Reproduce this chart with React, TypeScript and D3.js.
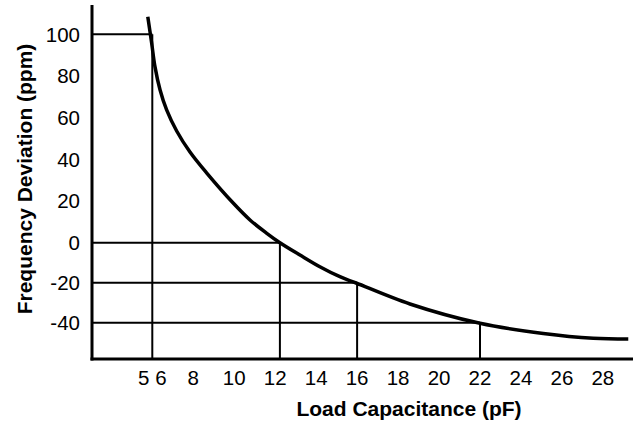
import * as d3 from "d3";
import React from "react";

// curve: load capacitance (pF) vs frequency deviation (ppm)
const capacitance = [5.78, 5.97, 6.13, 6.38, 6.7, 7.19, 7.84, 8.66, 9.96, 10.77, 11.59, 12.23, 13.21, 14.18, 15.16, 15.95, 18.58, 22, 25.09, 27.53, 29.24];
const deviation = [108.4, 95.7, 84.5, 73.3, 63.7, 53.6, 43.5, 33.4, 18.9, 10.9, 4.5, 0, -6.15, -12, -17, -20.15, -30.65, -40.3, -45.4, -47.8, -48.2];

// reference guides (x value, y value)
const guideX = [6, 12.23, 16, 22];
const guideY = [100, 0, -20, -40];

const yTicks = [100, 80, 60, 40, 20, 0, -20, -40];
const xTickValues = [6, 8, 10, 12, 14, 16, 18, 20, 22, 24, 26, 28];
const xTickLabels = ["5 6", "8", "10", "12", "14", "16", "18", "20", "22", "24", "26", "28"];

export default function App() {
  const WIDTH = 636;
  const HEIGHT = 422;
  const axisLeft = 92;
  const axisBottom = 359;
  const axisTop = 5;
  const axisRight = 633;

  const xScale = d3.scaleLinear().domain([6, 22]).range([152.3, 480]);
  // the printed axis is a bit stretched above zero
  const yScale = d3.scaleLinear().domain([-40, 0, 100]).range([322.7, 242.7, 34.3]);

  const points = capacitance.map((c, i) => [c, deviation[i]] as [number, number]);
  const line = d3
    .line<[number, number]>()
    .x(d => xScale(d[0]))
    .y(d => yScale(d[1]))
    .curve(d3.curveCatmullRom.alpha(0.5));

  const font = "Arial, 'Liberation Sans', Helvetica, sans-serif";

  return (
    <svg
      width={WIDTH}
      height={HEIGHT}
      style={{ position: "absolute", left: 0, top: 0, background: "#fff" }}
      fontFamily={font}
    >
      {/* guide lines */}
      <g stroke="#000" strokeWidth={2}>
        {guideX.map((gx, i) => (
          <g key={i}>
            <line x1={axisLeft} x2={xScale(gx)} y1={yScale(guideY[i])} y2={yScale(guideY[i])} />
            <line x1={xScale(gx)} x2={xScale(gx)} y1={axisBottom} y2={yScale(guideY[i])} />
          </g>
        ))}
      </g>

      {/* curve */}
      <path d={line(points) || ""} fill="none" stroke="#000" strokeWidth={3.5} />

      {/* axes */}
      <line x1={axisLeft} x2={axisLeft} y1={axisTop} y2={axisBottom + 1.5} stroke="#000" strokeWidth={3} />
      <line x1={axisLeft - 1.5} x2={axisRight} y1={axisBottom} y2={axisBottom} stroke="#000" strokeWidth={3} />

      {/* y tick labels */}
      {yTicks.map((t, i) => (
        <text key={i} x={80} y={yScale(t)} dy="0.36em" fontSize={20.5} textAnchor="end" fill="#000">
          {t}
        </text>
      ))}

      {/* x tick labels */}
      {xTickValues.map((t, i) => (
        <text key={i} x={xScale(t)} y={385} fontSize={20.5} textAnchor="middle" fill="#000">
          {xTickLabels[i]}
        </text>
      ))}

      {/* axis titles */}
      <text x={409} y={416} fontSize={21} fontWeight="bold" textAnchor="middle" fill="#000">
        Load Capacitance (pF)
      </text>
      <text
        transform={`translate(32, 179) rotate(-90)`}
        fontSize={21}
        fontWeight="bold"
        textAnchor="middle"
        fill="#000"
      >
        Frequency Deviation (ppm)
      </text>
    </svg>
  );
}
